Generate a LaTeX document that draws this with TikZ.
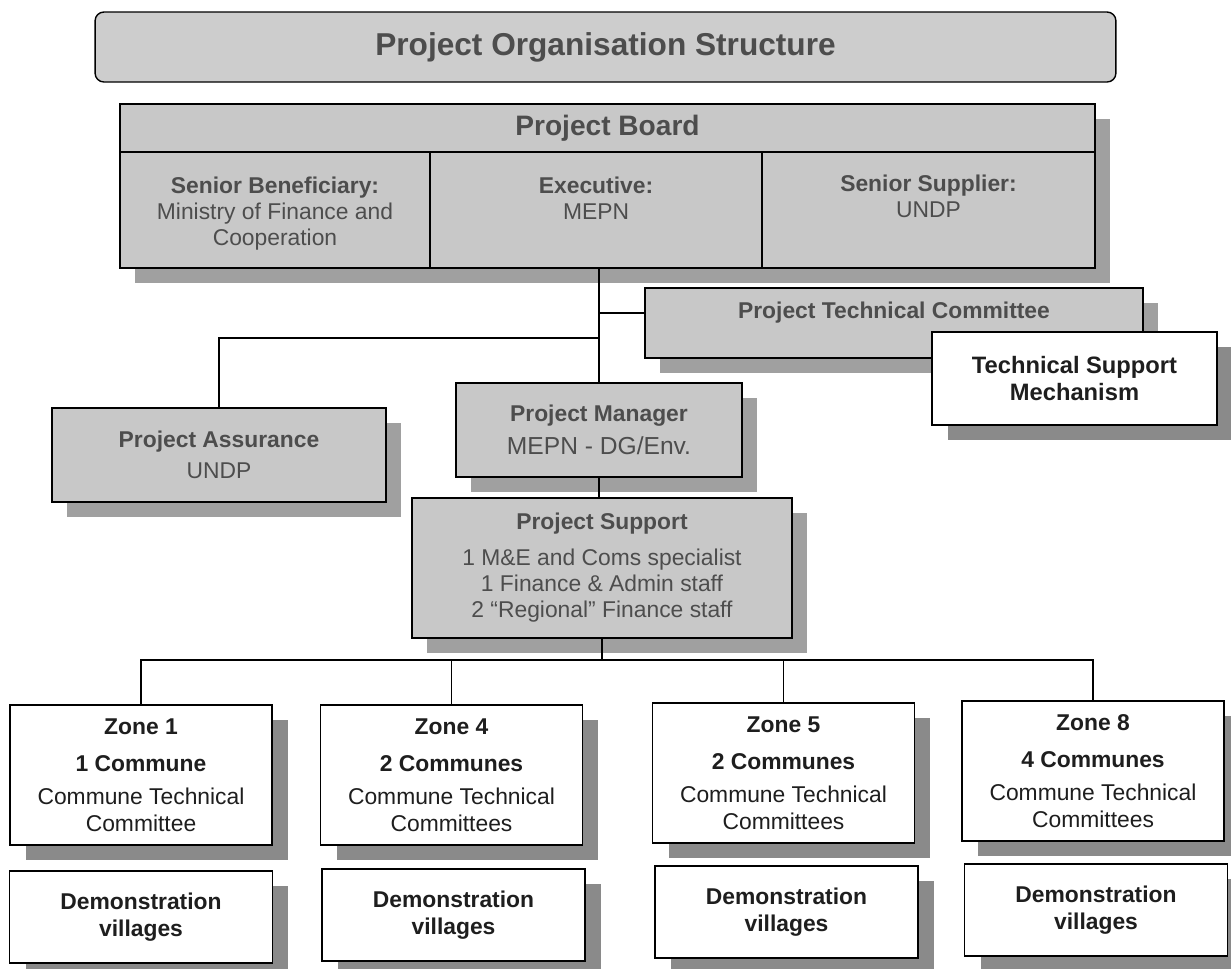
\documentclass[tikz,border=0pt]{standalone}
\usepackage{fontspec}
\setmainfont{Liberation Sans}
\usetikzlibrary{positioning, shadows}
\definecolor{org-fill}{HTML}{C8C8C8}
\definecolor{org-text}{HTML}{4D4D4D}
\definecolor{org-shadow}{HTML}{A0A0A0}
\definecolor{org-dark}{HTML}{8A8A8A}
\definecolor{org-ink}{HTML}{1E1E1E}

\begin{document}
\begin{tikzpicture}[
    x=0.02cm, y=-0.02cm,
    every node/.style={font=\fontsize{13}{15}\selectfont},
    titlebox/.style={rectangle, draw=black, line width=0.8pt, fill=org-fill!90, text=org-text, rounded corners=5pt, font=\fontsize{18}{21}\selectfont},
    greybox/.style={rectangle, draw=black, line width=0.8pt, fill=org-fill, text=org-text, align=center, inner sep=0pt,
        drop shadow={shadow xshift=0.3cm, shadow yshift=-0.3cm, fill=org-shadow, opacity=1}},
    whitebox/.style={rectangle, draw=black, line width=0.8pt, fill=white, text=org-ink, align=center, inner sep=0pt,
        drop shadow={shadow xshift=0.32cm, shadow yshift=-0.3cm, fill=org-dark, opacity=1}},
    cell/.style={rectangle, draw=black, line width=0.8pt, fill=org-fill, text=org-text, align=center, inner sep=0pt},
    celltxt/.style={text=org-text, align=center, inner sep=0pt},
    zone/.style={whitebox, minimum width=5.24cm, minimum height=2.8cm},
    demo/.style={whitebox, minimum width=5.26cm, minimum height=1.84cm},
    link/.style={draw=black, line width=1pt},
]
\useasboundingbox (0,0) rectangle (1231,968);

% Title
\node[titlebox, minimum width=20.42cm, minimum height=1.4cm] (title) at (605.5,47) {\textbf{Project Organisation Structure}};

% Project board with its three roles
\node[greybox, minimum width=19.5cm, minimum height=3.28cm] (board) at (607.5,186) {};
\node[cell, minimum width=19.5cm, minimum height=0.96cm, font=\fontsize{16}{19}\selectfont] (boardhead) at (607.5,128) {\textbf{Project Board}};
\node[cell, minimum width=6.2cm, minimum height=2.32cm] (beneficiary) at (275,210) {};
\node[cell, minimum width=6.64cm, minimum height=2.32cm] (executive) at (596,210) {};
\node[cell, minimum width=6.66cm, minimum height=2.32cm] (supplier) at (928.5,210) {};
\node[celltxt, below=0.5cm of beneficiary.north] (beneficiarytxt) {\textbf{Senior Beneficiary:}\\Ministry of Finance and\\Cooperation};
\node[celltxt, below=0.5cm of executive.north] (executivetxt) {\textbf{Executive:}\\MEPN};
\node[celltxt, below=0.46cm of supplier.north] (suppliertxt) {\textbf{Senior Supplier:}\\UNDP};

% Technical committee and support
\node[greybox, minimum width=9.96cm, minimum height=1.4cm] (ptc) at (894,323) {};
\node[celltxt, below=0.28cm of ptc.north] (ptctxt) {\textbf{Project Technical Committee}};
\node[whitebox, minimum width=5.7cm, minimum height=1.86cm, font=\fontsize{13.5}{15.5}\selectfont] (tsm) at (1074.5,378.5) {\textbf{Technical Support}\\\textbf{Mechanism}};

% Assurance, manager, support
\node[greybox, minimum width=6.68cm, minimum height=1.88cm] (assurance) at (219,455) {\textbf{Project Assurance}\\[3pt]UNDP};
\node[greybox, minimum width=5.72cm, minimum height=1.88cm] (manager) at (599,430) {\textbf{Project Manager}\\[4pt]{\fontsize{14}{16}\selectfont MEPN - DG/Env.}};
\node[greybox, minimum width=7.6cm, minimum height=2.8cm] (support) at (602,568) {\textbf{Project Support}\\[5pt]1 M\&E and Coms specialist\\1 Finance \& Admin staff\\2 ``Regional'' Finance staff};

% Zones
\node[zone] (zone1) at (141,775) {\textbf{Zone 1}\\[6pt]\textbf{1 Commune}\\[4pt]Commune Technical\\Committee};
\node[zone] (zone4) at (451.5,775) {\textbf{Zone 4}\\[6pt]\textbf{2 Communes}\\[4pt]Commune Technical\\Committees};
\node[zone] (zone5) at (783.5,773) {\textbf{Zone 5}\\[6pt]\textbf{2 Communes}\\[4pt]Commune Technical\\Committees};
\node[zone] (zone8) at (1093,771) {\textbf{Zone 8}\\[6pt]\textbf{4 Communes}\\[4pt]Commune Technical\\Committees};

% Demonstration villages
\node[demo] (demo1) at (141,917) {\textbf{Demonstration}\\\textbf{villages}};
\node[demo] (demo4) at (453.5,915) {\textbf{Demonstration}\\\textbf{villages}};
\node[demo] (demo5) at (786.5,912) {\textbf{Demonstration}\\\textbf{villages}};
\node[demo] (demo8) at (1096,910) {\textbf{Demonstration}\\\textbf{villages}};

% Connectors
\coordinate (ptcjoin) at (599,313);
\coordinate (split) at (599,338);
\coordinate (bus) at (599,660);
\draw[link] (manager.north |- board.south) -- (manager.north);
\draw[link] (ptcjoin) -- (ptcjoin -| ptc.west);
\draw[link] (assurance.north) |- (split);
\draw[link] (manager.south) -- (manager.south |- support.north);
\draw[link] (support.south) -- (support.south |- bus);
\draw[link] (zone1.north) |- (bus) -| (zone8.north);
\draw[link] (zone4.north) -- (zone4.north |- bus);
\draw[link] (zone5.north) -- (zone5.north |- bus);

\end{tikzpicture}
\end{document}
